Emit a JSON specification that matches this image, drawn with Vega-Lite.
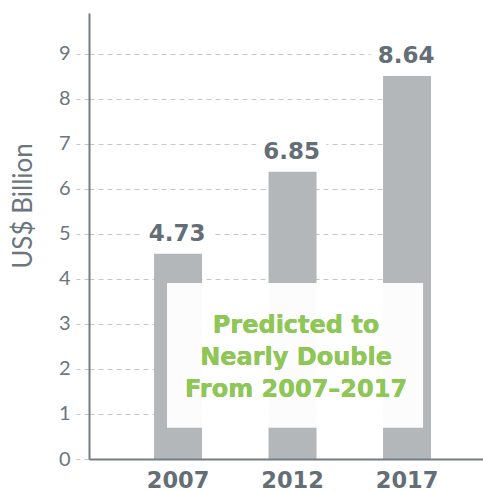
{
  "$schema": "https://vega.github.io/schema/vega-lite/v6.json",
  "width": 394,
  "height": 446,
  "autosize": "none",
  "padding": {"left": 89, "top": 13, "right": 0, "bottom": 32},
  "background": "white",
  "config": {"view": {"stroke": null}},
  "data": {"values": [
    {"year": "2007", "value": 4.56, "label": "4.73"},
    {"year": "2012", "value": 6.38, "label": "6.85"},
    {"year": "2017", "value": 8.51, "label": "8.64"}
  ]},
  "encoding": {
    "x": {
      "field": "year", "type": "nominal",
      "scale": {"domain": ["2007", "2012", "2017"], "paddingInner": 0.5808, "paddingOuter": 0.5109, "align": 0.556},
      "axis": {
        "title": null, "labelAngle": 0, "ticks": false, "zindex": 1,
        "domainColor": "#737d85", "domainWidth": 2,
        "labelFont": "DejaVu Sans", "labelFontWeight": "bold", "labelFontSize": 22.5,
        "labelColor": "#646e76", "labelPadding": 10
      }
    }
  },
  "layer": [
    {
      "mark": {"type": "bar", "color": "#b3b7ba"},
      "encoding": {
        "y": {
          "field": "value", "type": "quantitative",
          "scale": {"domain": [0, 9.91], "nice": false, "zero": true},
          "axis": {
            "values": [0, 1, 2, 3, 4, 5, 6, 7, 8, 9],
            "grid": true, "gridDash": [5, 4], "gridColor": "#c4c7ca", "gridWidth": 1,
            "tickSize": 13, "tickDash": [5, 4], "tickColor": "#c4c7ca",
            "domainColor": "#737d85", "domainWidth": 2,
            "labelFont": "Lato", "labelFontWeight": 400, "labelFontSize": 20,
            "labelColor": "#6b767e", "labelPadding": 6,
            "title": "US$ Billion", "titleFont": "Lato", "titleFontWeight": 400,
            "titleFontSize": 26, "titleColor": "#6b767e",
            "titleAngle": -90, "titleAlign": "center", "titleBaseline": "middle",
            "titleX": -66, "titleY": 192.5
          }
        }
      }
    },
    {
      "mark": {"type": "bar", "color": "white", "opacity": 0.66, "width": 256, "xOffset": 2.5},
      "encoding": {
        "x": {"datum": "2012", "type": "nominal"},
        "y": {"datum": 3.91, "type": "quantitative"},
        "y2": {"datum": 0.7}
      }
    },
    {
      "mark": {"type": "rect", "color": "white"},
      "encoding": {
        "x": {"datum": "2017", "type": "nominal", "bandPosition": 1},
        "x2": {"value": "width"},
        "y": {"datum": 0.02, "type": "quantitative"},
        "y2": {"datum": 9.91}
      }
    },
    {
      "mark": {"type": "text", "font": "DejaVu Sans", "fontWeight": "bold", "fontSize": 23, "baseline": "alphabetic", "dy": -13, "dx": -1, "fill": "white", "stroke": "white", "strokeWidth": 18, "strokeJoin": "round"},
      "encoding": {
        "y": {"field": "value", "type": "quantitative"},
        "text": {"field": "label"}
      }
    },
    {
      "mark": {"type": "text", "font": "DejaVu Sans", "fontWeight": "bold", "fontSize": 23, "baseline": "alphabetic", "dy": -13, "dx": -1, "color": "#646e76"},
      "encoding": {
        "y": {"field": "value", "type": "quantitative"},
        "text": {"field": "label"}
      }
    },
    {
      "mark": {"type": "text", "font": "DejaVu Sans", "fontWeight": "bold", "fontSize": 24, "baseline": "alphabetic", "align": "center", "lineHeight": 32, "dx": 3.5, "color": "#8fc757", "opacity": 0.88},
      "encoding": {
        "x": {"datum": "2012", "type": "nominal"},
        "y": {"datum": 2.79, "type": "quantitative"},
        "text": {"value": ["Predicted to", "Nearly Double", "From 2007–2017"]}
      }
    }
  ]
}
